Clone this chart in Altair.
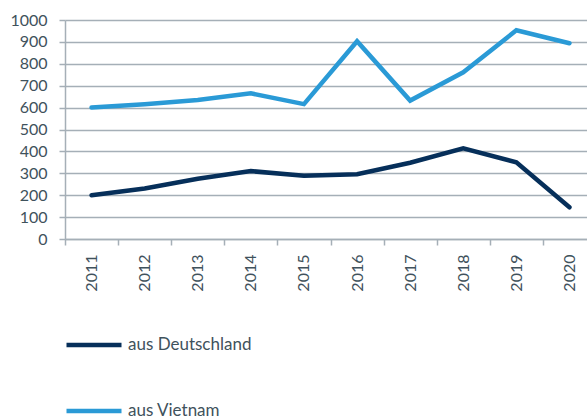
import altair as alt
import pandas as pd

years = [2011, 2012, 2013, 2014, 2015, 2016, 2017, 2018, 2019, 2020]
deutschland = [200, 231, 275, 310, 289, 296, 348, 414, 350, 145]
vietnam = [600, 615, 635, 665, 616, 903, 632, 761, 953, 894]
series = ["aus Deutschland", "aus Vietnam"]
colors = ["#062f5a", "#2a9ad6"]
y_ticks = [0, 100, 200, 300, 400, 500, 600, 700, 800, 900, 1000]
x_boundaries = [y - 0.5 for y in years]

rows = []
for yr, d, v in zip(years, deutschland, vietnam):
    rows.append({"Jahr": yr, "Serie": series[0], "Wert": d})
    rows.append({"Jahr": yr, "Serie": series[1], "Wert": v})
df = pd.DataFrame(rows)

W, H = 522, 219
step = 53.1
x_max = 2010.5 + W / step

text_color = "#3f525c"
grid_color = "#a5afb7"
font = "Lato"

chart = alt.Chart(df).mark_line(strokeWidth=4.5, strokeCap="round").encode(
    x=alt.X("Jahr:Q",
            scale=alt.Scale(domain=[2010.5, x_max], nice=False, zero=False),
            axis=alt.Axis(values=x_boundaries, labelExpr="toString(datum.value + 0.5)",
                          labelAngle=270, labelOffset=step / 2, labelPadding=9,
                          labelOverlap=False, labelBound=False, labelFlush=False,
                          tickSize=6, grid=False, title=None)),
    y=alt.Y("Wert:Q",
            scale=alt.Scale(domain=[0, 1000], nice=False),
            axis=alt.Axis(values=y_ticks, format="d", tickSize=6, labelPadding=12,
                          grid=True, title=None)),
    color=alt.Color("Serie:N",
                    scale=alt.Scale(domain=series, range=colors),
                    legend=alt.Legend(title=None, orient="none", legendX=-1, legendY=295,
                                      direction="vertical", symbolType="stroke",
                                      symbolSize=3025, symbolStrokeWidth=4.5,
                                      rowPadding=27, labelOffset=4, padding=0)),
).properties(
    width=W, height=H,
    padding={"left": 65, "top": 20, "right": 0, "bottom": 180},
    autosize=alt.AutoSizeParams(type="none"),
).configure_view(stroke=None).configure_axis(
    domainColor=grid_color, tickColor=grid_color, gridColor=grid_color,
    domainWidth=1.5, tickWidth=1.5, gridWidth=1.5,
    labelColor=text_color, labelFont=font, labelFontSize=16,
).configure_legend(
    labelColor=text_color, labelFont=font, labelFontSize=17,
)

chart.save("out.html", embed_options={"renderer": "svg", "actions": False})
